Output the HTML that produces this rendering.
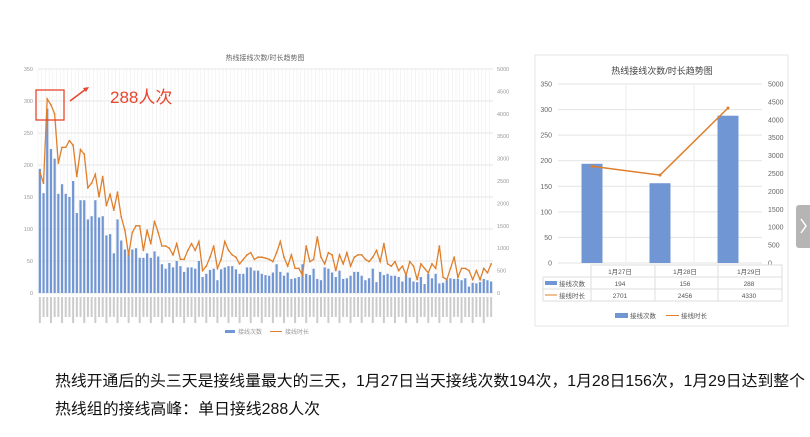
<!DOCTYPE html>
<html><head><meta charset="utf-8"><style>
body{margin:0;background:#fff;width:810px;height:432px;overflow:hidden;font-family:"Liberation Sans","Noto Sans CJK SC",sans-serif}
</style></head><body>
<svg id="s" width="810" height="432" xmlns="http://www.w3.org/2000/svg" font-family="Liberation Sans, Noto Sans CJK SC, sans-serif"></svg>
<script>
const s=document.getElementById('s');let h='';
const L=[2700,2450,4330,4200,4000,2900,3250,3250,3400,3300,2600,3200,3100,2350,2450,2650,2150,2600,1950,2200,1850,2250,1700,1400,850,1350,1500,1500,950,1400,1100,1600,1350,1050,1050,1000,850,1100,750,750,950,1100,950,1150,500,600,800,1050,550,750,1150,950,850,800,650,750,850,900,750,800,800,780,750,700,900,1150,800,600,850,550,550,400,1050,700,750,1250,800,650,900,850,500,850,650,900,600,800,850,850,750,700,800,950,700,1100,650,600,700,500,600,400,700,600,300,650,550,450,650,550,1050,350,300,550,800,350,550,550,500,300,500,300,550,450,650];
let B=[194,156,288,225,210,155,170,155,150,175,125,145,145,115,120,145,118,120,90,92,62,115,82,68,62,68,70,55,55,62,55,65,57,45,38,47,40,50,42,33,40,40,38,50,25,30,36,38,20,37,40,42,42,37,30,30,40,40,35,35,30,28,27,32,45,33,27,32,22,23,25,45,30,28,38,22,20,40,38,32,25,35,22,23,27,33,33,27,20,23,38,17,33,28,30,27,27,25,18,28,24,18,17,25,14,30,23,30,15,16,20,23,22,22,20,23,10,16,15,17,22,20,18,24];
const n=L.length;B=B.slice(0,n);while(B.length<n)B.push(20);
const x0=38,x1=493,yt=69,yb=293,w=(x1-x0)/n;
h+=`<text x="265" y="60" font-size="7" fill="#666" text-anchor="middle">热线接线次数/时长趋势图</text>`;
for(let i=0;i<=7;i++){const y=yb-i*(yb-yt)/7;h+=`<line x1="${x0}" x2="${x1}" y1="${y}" y2="${y}" stroke="#ddd" stroke-width="0.8"/><text x="33" y="${y+2}" font-size="5.5" fill="#999" text-anchor="end">${i*50}</text>`}
for(let i=0;i<=10;i++){const y=yb-i*(yb-yt)/10;h+=`<text x="497" y="${y+2}" font-size="5.5" fill="#999">${i*500}</text>`}
let pts=[];
for(let i=0;i<n;i++){const cx=x0+w*(i+.5);h+=`<line x1="${x0+w*i}" x2="${x0+w*i}" y1="${yt}" y2="${yb}" stroke="#eee" stroke-width="0.6"/>`;
const bh=B[i]/350*(yb-yt);h+=`<rect x="${cx-w*0.3}" y="${yb-bh}" width="${w*0.6}" height="${bh}" fill="#7196d4"/>`;
pts.push(cx.toFixed(1)+','+(yb-L[i]/5000*(yb-yt)).toFixed(1));
h+=`<rect x="${cx-1}" y="297" width="2" height="${i%3==0?26:20}" fill="#ccc"/>`}
h+=`<polyline points="${pts.join(' ')}" fill="none" stroke="#e07f2a" stroke-width="1.3"/>`;
pts.forEach(p=>{const [a,b]=p.split(',');h+=`<circle cx="${a}" cy="${b}" r="0.9" fill="#e07f2a"/>`});
h+=`<rect x="225" y="330" width="10" height="3" fill="#7196d4"/><text x="238" y="334" font-size="6" fill="#999">接线次数</text><line x1="270" x2="282" y1="331.5" y2="331.5" stroke="#e07f2a"/><text x="285" y="334" font-size="6" fill="#999">接线时长</text>`;
h+=`<rect x="36" y="90" width="28" height="30" fill="none" stroke="#e8452c" stroke-width="1.3"/><line x1="70" y1="101" x2="86" y2="89" stroke="#e8452c" stroke-width="1.5"/><polygon points="89,87 83,88 86,92" fill="#e8452c"/><text x="110" y="103" font-size="17" fill="#e8452c">288人次</text>`;
h+=`<rect x="535" y="55" width="253" height="271" fill="#fff" stroke="#e6e6e6"/>`;
h+=`<text x="662" y="74" font-size="9" fill="#444" text-anchor="middle">热线接线次数/时长趋势图</text>`;
const rx0=558,rx1=762,ryt=84,ryb=263;
for(let i=0;i<=7;i++){const y=ryb-i*(ryb-ryt)/7;h+=`<line x1="${rx0}" x2="${rx1}" y1="${y}" y2="${y}" stroke="#e3e3e3"/><text x="552" y="${y+2.5}" font-size="7" fill="#666" text-anchor="end">${i*50}</text>`}
for(let i=0;i<=10;i++){const y=ryb-i*(ryb-ryt)/10;h+=`<text x="768" y="${y+2.5}" font-size="7" fill="#666">${i*500}</text>`}
[626,694].forEach(x=>h+=`<line x1="${x}" x2="${x}" y1="${ryt}" y2="${ryb}" stroke="#eee"/>`);
const cs=[592,660,728],bv=[194,156,288],lv=[2701,2456,4330];let rp=[];
cs.forEach((c,i)=>{const bh=bv[i]/350*(ryb-ryt);h+=`<rect x="${c-10.5}" y="${ryb-bh}" width="21" height="${bh}" fill="#7196d4"/>`;rp.push(c+','+(ryb-lv[i]/5000*(ryb-ryt)))});
h+=`<polyline points="${rp.join(' ')}" fill="none" stroke="#e07f2a" stroke-width="1.5"/>`;
rp.forEach(p=>{const [a,b]=p.split(',');h+=`<circle cx="${a}" cy="${b}" r="1.5" fill="#e07f2a"/>`});
h+=`<g stroke="#ddd" fill="none"><rect x="591" y="265" width="191" height="36"/><line x1="543" x2="782" y1="277" y2="277"/><line x1="543" x2="782" y1="289" y2="289"/><line x1="543" x2="782" y1="301" y2="301"/><line x1="543" x2="543" y1="277" y2="301"/><line x1="655" x2="655" y1="265" y2="301"/><line x1="718" x2="718" y1="265" y2="301"/></g>`;
const tc=[620,685,749];
const tt=(x,y,t)=>h+=`<text x="${x}" y="${y}" font-size="6.5" fill="#555" text-anchor="middle">${t}</text>`;
['1月27日','1月28日','1月29日'].forEach((t,i)=>tt(tc[i],274,t));
bv.forEach((v,i)=>tt(tc[i],286,v));lv.forEach((v,i)=>tt(tc[i],298,v));
h+=`<rect x="545" y="281" width="12" height="4" fill="#7196d4"/><text x="559" y="286" font-size="6.5" fill="#555">接线次数</text><line x1="545" x2="557" y1="295" y2="295" stroke="#e07f2a"/><text x="559" y="298" font-size="6.5" fill="#555">接线时长</text>`;
h+=`<rect x="615" y="313" width="13" height="5" fill="#7196d4"/><text x="630" y="318" font-size="6.5" fill="#555">接线次数</text><line x1="666" x2="679" y1="315.5" y2="315.5" stroke="#e07f2a"/><text x="681" y="318" font-size="6.5" fill="#555">接线时长</text>`;
h+=`<rect x="796" y="205" width="16" height="43" rx="3" fill="#b5b5b5"/><polyline points="801,219 806,226 801,233" fill="none" stroke="#fff" stroke-width="1.5"/>`;
h+=`<text x="55" y="386" font-size="15.5" fill="#111" textLength="750" lengthAdjust="spacingAndGlyphs">热线开通后的头三天是接线量最大的三天，1月27日当天接线次数194次，1月28日156次，1月29日达到整个</text>`;
h+=`<text x="55" y="414" font-size="15.5" fill="#111" textLength="265" lengthAdjust="spacingAndGlyphs">热线组的接线高峰：单日接线288人次</text>`;
s.innerHTML=h;
</script>
</body></html>
